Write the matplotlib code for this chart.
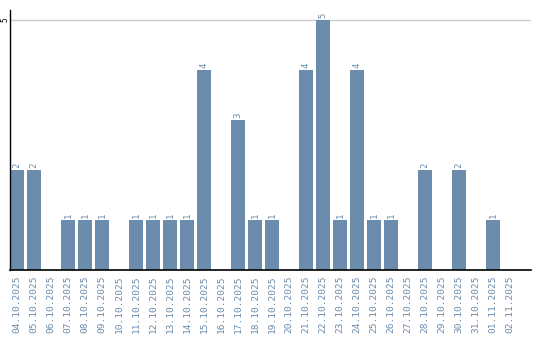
import matplotlib.pyplot as plt
import numpy as np

dates = [
    "04.10.2025", "05.10.2025", "06.10.2025", "07.10.2025", "08.10.2025",
    "09.10.2025", "10.10.2025", "11.10.2025", "12.10.2025", "13.10.2025",
    "14.10.2025", "15.10.2025", "16.10.2025", "17.10.2025", "18.10.2025",
    "19.10.2025", "20.10.2025", "21.10.2025", "22.10.2025", "23.10.2025",
    "24.10.2025", "25.10.2025", "26.10.2025", "27.10.2025", "28.10.2025",
    "29.10.2025", "30.10.2025", "31.10.2025", "01.11.2025", "02.11.2025",
]
counts = [2, 2, 0, 1, 1, 1, 0, 1, 1, 1, 1, 4, 0, 3, 1, 1, 0, 4, 5, 1,
          4, 1, 1, 0, 2, 0, 2, 0, 1, 0]

BAR = "#6b8cac"

fig = plt.figure(figsize=(5.4, 3.4), dpi=100)
ax = fig.add_axes([10 / 540, 70 / 340, 521 / 540, 260 / 340])

x = np.arange(len(dates))
ax.bar(x, counts, width=0.82, color=BAR, zorder=2)
for xi, c in zip(x, counts):
    if c > 0:
        ax.text(xi, c + 0.04, str(c), rotation=90, ha="center", va="bottom",
                fontsize=6.5, color=BAR, family="DejaVu Sans Mono")

ax.set_xlim(-0.41, 30.24)
ax.set_ylim(0, 5.2)
ax.set_yticks([5])
ax.set_yticklabels(["5"], rotation=90, va="center", fontsize=5.5,
                   family="DejaVu Sans Mono")
ax.tick_params(axis="y", length=0, pad=0.5)
ax.grid(axis="y", color="#cccccc", linewidth=1, zorder=0)

ax.set_xticks(x)
ax.set_xticklabels(dates, rotation=90, fontsize=6.8, color=BAR,
                   family="DejaVu Sans Mono")
ax.tick_params(axis="x", length=0, pad=4)

for side in ("top", "right"):
    ax.spines[side].set_visible(False)
ax.spines["left"].set_color("black")
ax.spines["bottom"].set_color("black")
ax.spines["left"].set_linewidth(1)
ax.spines["bottom"].set_linewidth(1.2)

fig.savefig("out.png", dpi=100)
